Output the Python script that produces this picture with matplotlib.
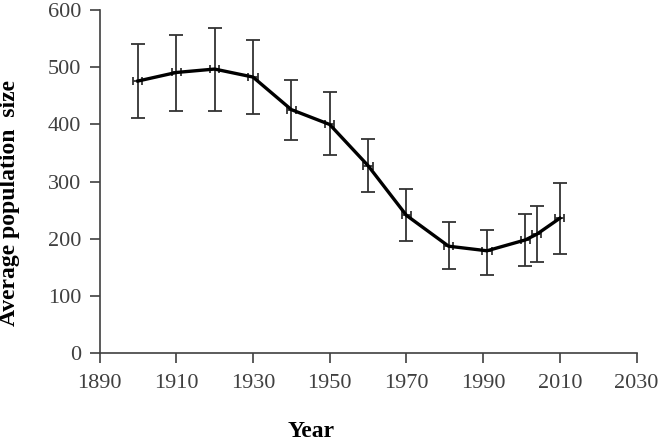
import numpy as np
import matplotlib.pyplot as plt

# ==================== DATA ====================
years = [1900, 1910, 1920, 1930, 1940, 1950, 1960, 1970, 1981, 1991, 2001, 2004, 2010]
mean_size = [476, 491, 497, 483, 426, 400, 328, 241, 187, 179, 198, 208, 236]
upper = [541, 556, 569, 548, 478, 457, 375, 287, 230, 215, 243, 258, 297]
lower = [412, 424, 424, 418, 373, 346, 282, 196, 147, 137, 153, 159, 174]
x_err = [1.2] * len(years)

x_ticks = [1890, 1910, 1930, 1950, 1970, 1990, 2010, 2030]
y_ticks = [0, 100, 200, 300, 400, 500, 600]

# ==================== PLOT ====================
plt.rcParams['font.family'] = ['Liberation Serif', 'DejaVu Serif']

fig = plt.figure(figsize=(6.59, 4.43), dpi=100)
ax = fig.add_axes([0.151, 0.203, 0.815, 0.774])

m = np.array(mean_size)
yerr = [m - np.array(lower), np.array(upper) - m]

ax.errorbar(years, mean_size, yerr=yerr, fmt='none', ecolor='#333333',
            elinewidth=1.3, capsize=5, capthick=1.3, zorder=2)
ax.errorbar(years, mean_size, xerr=x_err, fmt='none', ecolor='#333333',
            elinewidth=1.3, capsize=3, capthick=1.3, zorder=2)
ax.plot(years, mean_size, color='black', lw=2.4, zorder=3)

ax.set_xlim(1890, 2030)
ax.set_ylim(0, 600)
ax.set_xticks(x_ticks)
ax.set_yticks(y_ticks)

for s in ['top', 'right']:
    ax.spines[s].set_visible(False)
for s in ['left', 'bottom']:
    ax.spines[s].set_color('#404040')
    ax.spines[s].set_linewidth(1.2)

ax.tick_params(axis='both', direction='out', length=7, width=1.2,
               color='#404040', labelcolor='#404040', labelsize=16)
ax.tick_params(axis='x', pad=8)
ax.tick_params(axis='y', pad=6)

ax.set_xlabel('Year', fontsize=17, fontweight='bold', va='center')
ax.xaxis.set_label_coords(0.394, -0.23)
ax.set_ylabel('Average population  size', fontsize=17, fontweight='bold', va='center')
ax.yaxis.set_label_coords(-0.167, 0.437)

fig.savefig('out.png', dpi=100)
